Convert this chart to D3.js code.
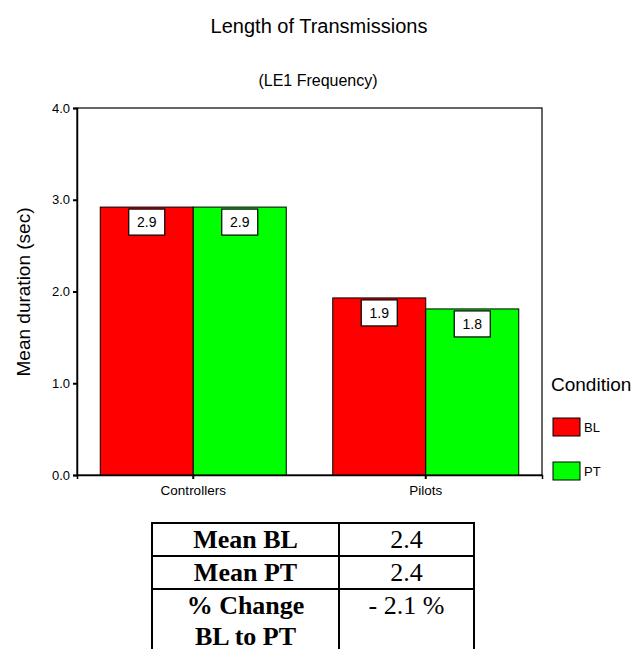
<!DOCTYPE html>
<html><head><meta charset="utf-8">
<script src="https://cdn.jsdelivr.net/npm/d3@7"></script>
<style>body{margin:0;background:#fff}svg{display:block}</style>
</head><body><svg id="c" width="634" height="649"></svg>
<script>
const categories = ["Controllers", "Pilots"];
const conditions = ["BL", "PT"];
const valuesBL = [2.92, 1.93];
const valuesPT = [2.92, 1.81];
const labelsBL = ["2.9", "1.9"];
const labelsPT = ["2.9", "1.8"];
const yTicks = [0, 1, 2, 3, 4];
const colors = ["#ff0000", "#00ff00"];
const tableRows = [["Mean BL", "2.4"], ["Mean PT", "2.4"], ["% Change|BL to PT", "- 2.1 %"]];

const FONT = "Arial, Liberation Sans, sans-serif";
const SERIF = "Times New Roman, Liberation Serif, serif";
const svg = d3.select("#c");
const L = 77, R = 542, T = 108, B = 475;
const x0 = d3.scaleBand().domain(categories).range([L, R]).paddingInner(0.2).paddingOuter(0.1);
const x1 = d3.scaleBand().domain(conditions).range([0, x0.bandwidth()]);
const y = d3.scaleLinear().domain([0, 4]).range([B, T]);
const color = d3.scaleOrdinal().domain(conditions).range(colors);

svg.append("text").attr("x", 319).attr("y", 33).attr("text-anchor", "middle")
  .attr("font-family", FONT).attr("font-size", 20).text("Length of Transmissions");
svg.append("text").attr("x", 318).attr("y", 86).attr("text-anchor", "middle")
  .attr("font-family", FONT).attr("font-size", 16).text("(LE1 Frequency)");

const data = [];
categories.forEach((c, i) => {
  data.push({cat: c, cond: "BL", v: valuesBL[i], lab: labelsBL[i]});
  data.push({cat: c, cond: "PT", v: valuesPT[i], lab: labelsPT[i]});
});

svg.append("rect").attr("x", L).attr("y", T).attr("width", R - L).attr("height", B - T)
  .attr("fill", "none").attr("stroke", "#000").attr("stroke-width", 1.2);

svg.selectAll("rect.bar").data(data).enter().append("rect").attr("class", "bar")
  .attr("x", d => x0(d.cat) + x1(d.cond)).attr("y", d => y(d.v))
  .attr("width", x1.bandwidth()).attr("height", d => y(0) - y(d.v))
  .attr("fill", d => color(d.cond)).attr("stroke", "#000").attr("stroke-width", 1);

const lg = svg.selectAll("g.lab").data(data).enter().append("g").attr("class", "lab");
lg.append("rect").attr("x", d => x0(d.cat) + x1(d.cond) + x1.bandwidth() / 2 - 18)
  .attr("y", d => y(d.v) + 2).attr("width", 36).attr("height", 26)
  .attr("fill", "#fff").attr("stroke", "#000").attr("stroke-width", 1.2);
lg.append("text").attr("x", d => x0(d.cat) + x1(d.cond) + x1.bandwidth() / 2)
  .attr("y", d => y(d.v) + 20).attr("text-anchor", "middle")
  .attr("font-family", FONT).attr("font-size", 14).text(d => d.lab);

const yAxis = svg.append("g").attr("transform", `translate(${L},0)`)
  .call(d3.axisLeft(y).tickValues(yTicks).tickFormat(d3.format(".1f")).tickSize(4).tickPadding(3));
yAxis.select(".domain").attr("stroke-width", 1.5);
yAxis.selectAll(".tick line").attr("stroke-width", 2);
yAxis.selectAll("text").attr("font-family", FONT).attr("font-size", 13).attr("fill", "#000");

const xAxis = svg.append("g").attr("transform", `translate(0,${B})`)
  .call(d3.axisBottom(x0).tickSize(4).tickPadding(6));
xAxis.select(".domain").attr("stroke-width", 1.5);
xAxis.selectAll(".tick line").attr("stroke-width", 2);
xAxis.selectAll("text").attr("font-family", FONT).attr("font-size", 13.5).attr("fill", "#000");

svg.append("text").attr("transform", "translate(30,292) rotate(-90)").attr("text-anchor", "middle")
  .attr("font-family", FONT).attr("font-size", 19).text("Mean duration (sec)");

svg.append("text").attr("x", 551).attr("y", 391)
  .attr("font-family", FONT).attr("font-size", 19).text("Condition");
const leg = svg.selectAll("g.leg").data(conditions).enter().append("g").attr("class", "leg")
  .attr("transform", (d, i) => `translate(553,${418 + i * 44})`);
leg.append("rect").attr("width", 27).attr("height", 18).attr("fill", d => color(d)).attr("stroke", "#000");
leg.append("text").attr("x", 31).attr("y", 14).attr("font-family", FONT)
  .attr("font-size", 13).text(d => d);

const tL = 152, tM = 339, tR = 474, tT = 523, rh = 33;
const tg = svg.append("g");
[tL, tM, tR].forEach(xx => tg.append("line").attr("x1", xx).attr("x2", xx).attr("y1", tT).attr("y2", 700)
  .attr("stroke", "#000").attr("stroke-width", 2));
[tT, tT + rh, tT + 2 * rh].forEach(yy => tg.append("line").attr("x1", tL - 1).attr("x2", tR + 1)
  .attr("y1", yy).attr("y2", yy).attr("stroke", "#000").attr("stroke-width", 2));
tableRows.forEach((r, i) => {
  r[0].split("|").forEach((ln, j) => {
    tg.append("text").attr("x", (tL + tM) / 2).attr("y", tT + i * rh + 25 + j * 31).attr("text-anchor", "middle")
      .attr("font-family", SERIF).attr("font-weight", "bold").attr("font-size", 26).text(ln);
  });
  tg.append("text").attr("x", (tM + tR) / 2).attr("y", tT + i * rh + 25).attr("text-anchor", "middle")
    .attr("font-family", SERIF).attr("font-size", 26).text(r[1]);
});
</script></body></html>
